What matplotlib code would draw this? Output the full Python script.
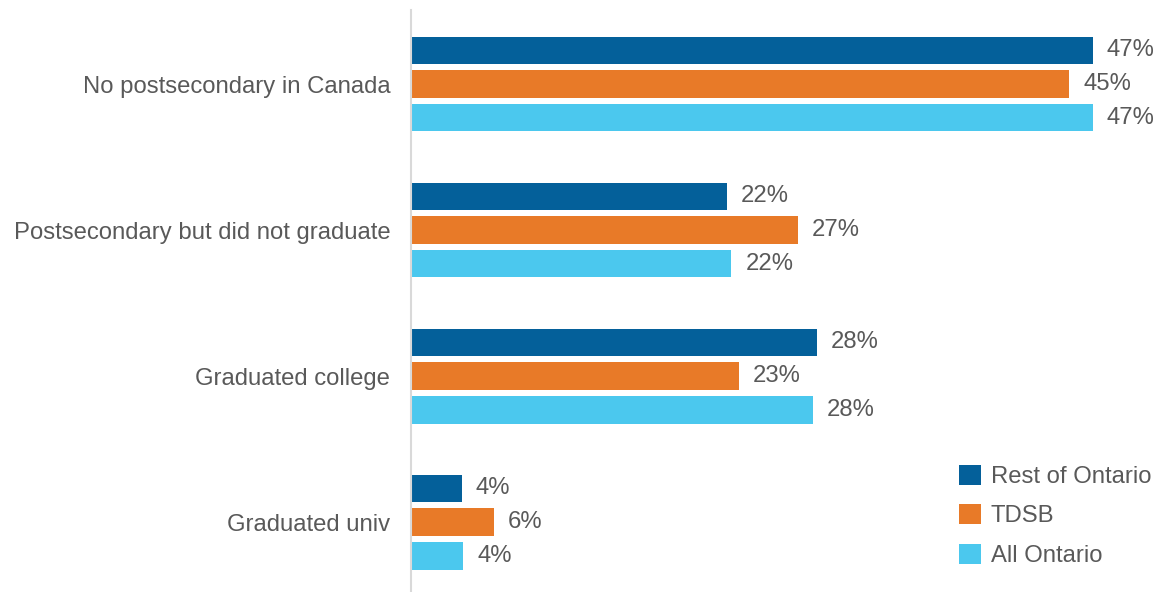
import matplotlib
matplotlib.use("Agg")
import matplotlib.pyplot as plt
import numpy as np
from matplotlib.patches import Patch

categories = ["No postsecondary in Canada", "Postsecondary but did not graduate",
              "Graduated college", "Graduated univ"]
series_names = ["Rest of Ontario", "TDSB", "All Ontario"]
rest_of_ontario = [47.0, 21.8, 28.0, 3.5]
tdsb = [45.4, 26.7, 22.6, 5.7]
all_ontario = [47.0, 22.1, 27.7, 3.6]
rest_labels = ["47%", "22%", "28%", "4%"]
tdsb_labels = ["45%", "27%", "23%", "6%"]
all_labels = ["47%", "22%", "28%", "4%"]

colors = ["#04609A", "#E87A28", "#4BC8EE"]
text_color = "#595959"

plt.rcParams['font.family'] = ['Liberation Sans', 'DejaVu Sans']
FS = 17.2

W, H = 1159, 592
fig = plt.figure(figsize=(W / 100, H / 100), dpi=100)
left_px, right_px, top_px, bot_px = 411, 1159, 10, 592
ax = fig.add_axes([left_px / W, 1 - bot_px / H, (right_px - left_px) / W, (bot_px - top_px) / H])

y = np.arange(len(categories))
bar_h = 0.19
pitch = 0.23
series = [rest_of_ontario, tdsb, all_ontario]
labels = [rest_labels, tdsb_labels, all_labels]
for i, (vals, labs, col) in enumerate(zip(series, labels, colors)):
    pos = y + (i - 1) * pitch
    ax.barh(pos, vals, height=bar_h, color=col, edgecolor='none')
    for p, v, t in zip(pos, vals, labs):
        ax.annotate(t, (v, p), xytext=(14, 0), textcoords='offset pixels',
                    va='center', ha='left', fontsize=FS, color=text_color)

ax.set_xlim(0, (right_px - left_px) / 14.5)
ax.set_ylim(3.479, -0.507)
ax.set_yticks(y)
ax.set_yticklabels(categories, fontsize=FS, color=text_color)
ax.tick_params(axis='y', length=0, pad=15)
ax.set_xticks([])
for s in ['top', 'right', 'bottom']:
    ax.spines[s].set_visible(False)
ax.spines['left'].set_color('#D9D9D9')
ax.spines['left'].set_linewidth(1.5)

handles = [Patch(facecolor=c, edgecolor='none') for c in colors]
leg = ax.legend(handles, series_names, frameon=False, fontsize=FS,
                loc='upper left', bbox_to_anchor=((949 - left_px) / (right_px - left_px), 1 - (455 - top_px) / (bot_px - top_px)),
                handlelength=0.92, handleheight=0.92, handletextpad=0.42, labelspacing=0.68,
                labelcolor=text_color, borderaxespad=0)

fig.savefig("out.png", dpi=100)
